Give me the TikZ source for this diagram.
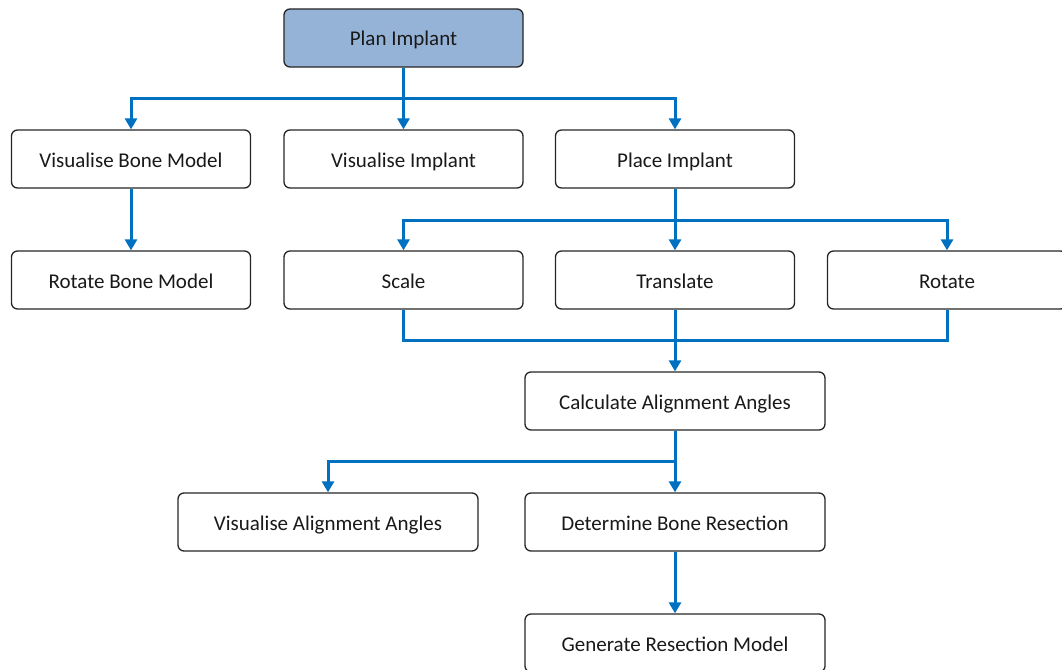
\documentclass[tikz,border=0pt]{standalone}
\usepackage{fontspec}
\setmainfont{Carlito}
\usetikzlibrary{arrows.meta}
\definecolor{flowblue}{HTML}{0070C0}
\definecolor{headfill}{HTML}{95B3D7}
\definecolor{boxline}{HTML}{262626}
\tikzset{
  box/.style={draw=boxline, line width=1.3pt, rounded corners=6pt, fill=white,
    minimum width=239pt, minimum height=58pt, inner sep=0pt,
    text height=17pt, text depth=1pt,
    font=\fontsize{21}{24}\selectfont, text=black!90},
  widebox/.style={box, minimum width=300pt},
  flow/.style={draw=flowblue, line width=3pt},
  flowarrow/.style={flow, -{Triangle[width=12pt,length=11pt]}}
}
\begin{document}
\begin{tikzpicture}[x=1pt,y=-1pt]
\useasboundingbox (0,0) rectangle (1062,669);
\clip (0,0) rectangle (1062,669);
% boxes
\node[box, fill=headfill] (plan) at (403.5,38) {Plan Implant};
\node[box] (visbone) at (131,159) {Visualise Bone Model};
\node[box] (visimp) at (403.5,159) {Visualise Implant};
\node[box] (place) at (675,159) {Place Implant};
\node[box] (rotbone) at (131,280) {Rotate Bone Model};
\node[box] (scale) at (403.5,280) {Scale};
\node[box] (translate) at (675,280) {Translate};
\node[box] (rotate) at (947,280) {Rotate};
\node[widebox] (calc) at (675,401) {Calculate Alignment Angles};
\node[widebox] (visalign) at (328,522) {Visualise Alignment Angles};
\node[widebox] (determine) at (675,522) {Determine Bone Resection};
\node[widebox] (generate) at (675,643) {Generate Resection Model};
% junction points
\coordinate (j1) at (403.5,98);
\coordinate (j2) at (675,220);
\coordinate (j3) at (675,340);
\coordinate (j4) at (675,461);
% connectors
\draw[flow] (plan.south) -- (j1);
\draw[flowarrow] (j1) -| (visbone.north);
\draw[flowarrow] (j1) -- (visimp.north);
\draw[flowarrow] (j1) -| (place.north);
\draw[flowarrow] (visbone) -- (rotbone);
\draw[flow] (place.south) -- (j2);
\draw[flowarrow] (j2) -| (scale.north);
\draw[flowarrow] (j2) -- (translate.north);
\draw[flowarrow] (j2) -| (rotate.north);
\draw[flow] (scale.south) |- (j3);
\draw[flow] (rotate.south) |- (j3);
\draw[flowarrow] (translate.south) -- (calc.north);
\draw[flow] (calc.south) -- (j4);
\draw[flowarrow] (j4) -| (visalign.north);
\draw[flowarrow] (j4) -- (determine.north);
\draw[flowarrow] (determine) -- (generate);
\end{tikzpicture}
\end{document}
